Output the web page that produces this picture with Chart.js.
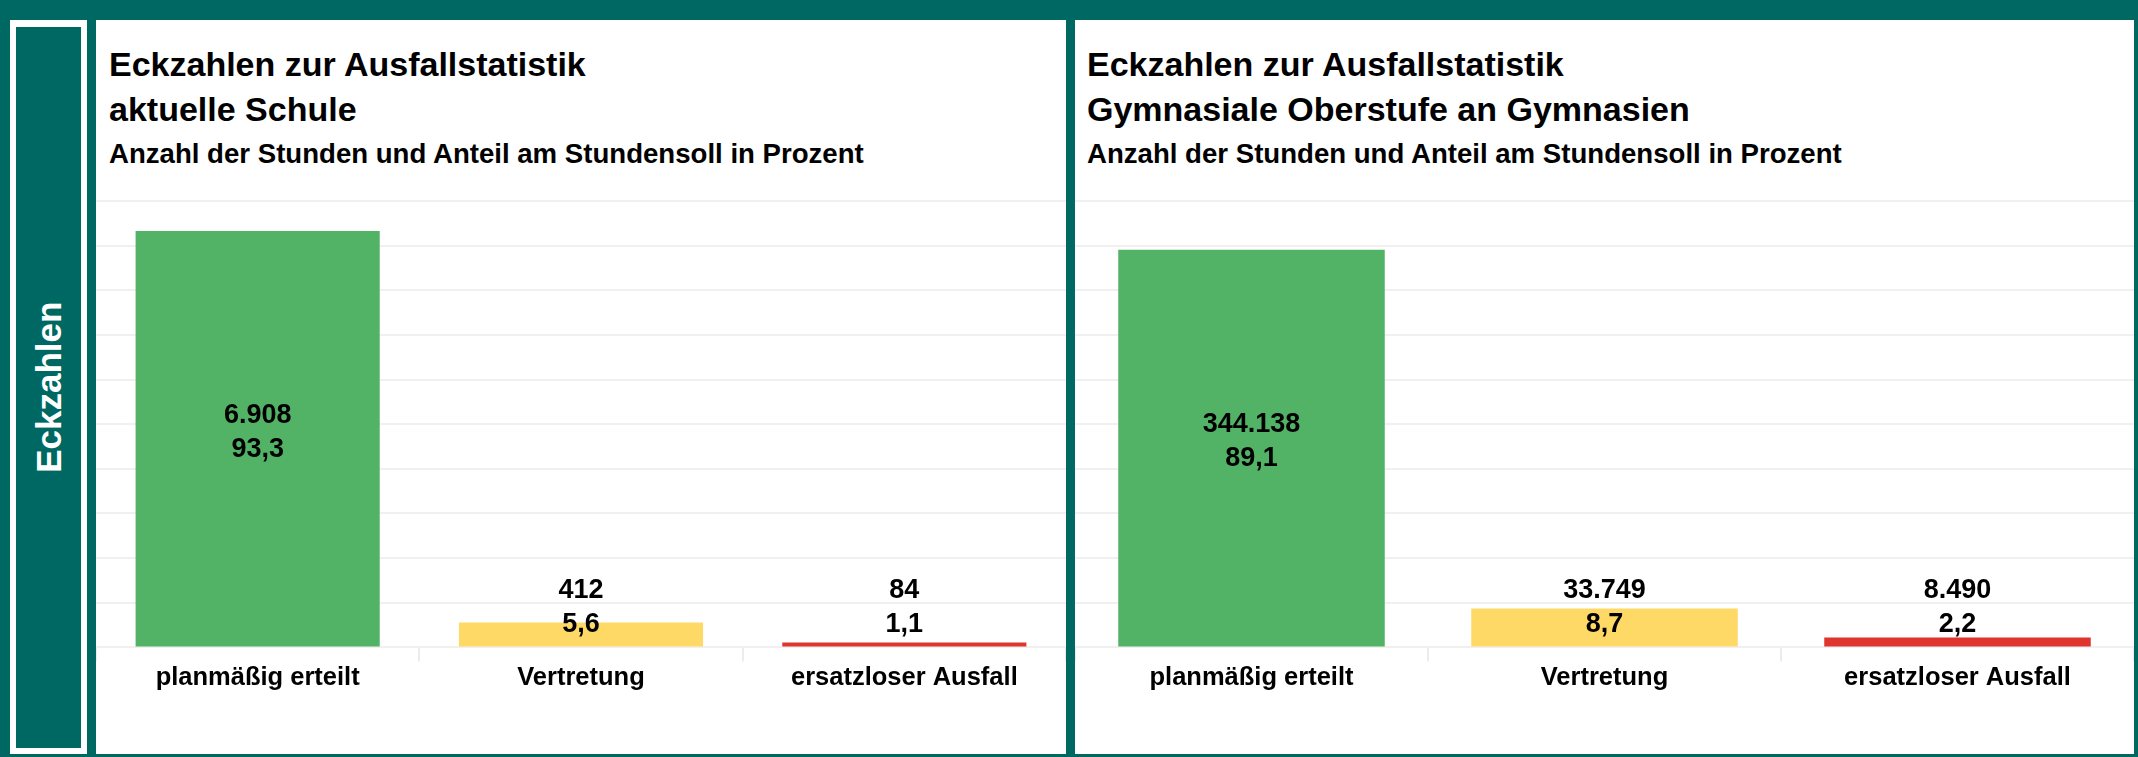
<!DOCTYPE html>
<html>
<head>
<meta charset="utf-8">
<script src="https://cdn.jsdelivr.net/npm/chart.js@4.4.1/dist/chart.umd.min.js"></script>
<style>
  body { margin: 0; width: 2138px; height: 757px; background: #006862; position: relative; overflow: hidden;
         font-family: "Liberation Sans", Arial, sans-serif; }
  .frame { position: absolute; left: 10px; top: 20px; width: 77px; height: 734px; background: #fff; }
  .frame-inner { position: absolute; left: 6px; top: 7px; width: 65px; height: 721px; background: #006862; }
  .frame-text { position: absolute; left: 50%; top: 50%; transform: translate(-50%, -52%) rotate(-90deg);
                color: #fff; font-weight: bold; font-size: 35px; white-space: nowrap; }
  .panel { position: absolute; top: 20px; height: 734px; background: #fff; }
  .title { position: absolute; left: 13px; top: 21.5px; font-weight: bold; font-size: 34px; line-height: 45px;
           color: #000; white-space: nowrap; }
  .title .sub { font-size: 27.6px; position: relative; top: -3px; }
  .chartbox { position: absolute; left: 0; right: 0; top: 170px; bottom: 0; }
</style>
</head>
<body>
<div class="frame"><div class="frame-inner"><div class="frame-text">Eckzahlen</div></div></div>

<div class="panel" style="left:96px; width:970px;">
  <div class="title">Eckzahlen zur Ausfallstatistik<br>aktuelle Schule<br><span class="sub">Anzahl der Stunden und Anteil am Stundensoll in Prozent</span></div>
  <div class="chartbox"><canvas id="chartSchule"></canvas></div>
</div>

<div class="panel" style="left:1075px; width:1059px;">
  <div class="title" style="left:12px;">Eckzahlen zur Ausfallstatistik<br>Gymnasiale Oberstufe an Gymnasien<br><span class="sub">Anzahl der Stunden und Anteil am Stundensoll in Prozent</span></div>
  <div class="chartbox"><canvas id="chartGym"></canvas></div>
</div>

<script>
// Daten
const categories = ["planmäßig erteilt", "Vertretung", "ersatzloser Ausfall"];
const schuleStunden = [6908, 412, 84];
const schuleProzent = [93.3, 5.6, 1.1];
const gymStunden = [344138, 33749, 8490];
const gymProzent = [89.1, 8.7, 2.2];
const barColors = ["#52b266", "#ffd966", "#e0352f"];
const yTicks = [0, 10, 20, 30, 40, 50, 60, 70, 80, 90, 100];

const FONT = '"Liberation Sans", Arial, sans-serif';

function fmtStunden(v) {
  return String(v).replace(/\B(?=(\d{3})+(?!\d))/g, ".");
}
function fmtProzent(v) {
  return v.toFixed(1).replace(".", ",");
}

// zwei Zeilen: Stunden + Prozent
const barLabels = {
  id: "barLabels",
  afterDatasetsDraw(chart) {
    const ctx = chart.ctx;
    const ds = chart.data.datasets[0];
    const meta = chart.getDatasetMeta(0);
    ctx.save();
    ctx.font = "bold 27px " + FONT;
    ctx.fillStyle = "#000";
    ctx.textAlign = "center";
    ctx.textBaseline = "middle";
    meta.data.forEach((bar, i) => {
      const h = bar.base - bar.y;
      let y1, y2;
      if (h > 150) {
        const cy = (bar.y + bar.base) / 2 - 6;
        y1 = cy - 17;
        y2 = cy + 17;
      } else {
        y1 = bar.base - 56;
        y2 = bar.base - 22;
      }
      ctx.fillText(fmtStunden(ds.stunden[i]), bar.x, y1);
      ctx.fillText(fmtProzent(ds.data[i]), bar.x, y2);
    });
    ctx.restore();
  }
};

function makeChart(id, prozent, stunden) {
  return new Chart(document.getElementById(id), {
    type: "bar",
    data: {
      labels: categories,
      datasets: [{
        data: prozent,
        stunden: stunden,
        backgroundColor: barColors,
        categoryPercentage: 0.755,
        barPercentage: 1
      }]
    },
    options: {
      responsive: true,
      maintainAspectRatio: false,
      animation: false,
      layout: { padding: { top: 11, bottom: 60, left: 0, right: 0 } },
      plugins: {
        legend: { display: false },
        tooltip: { enabled: false }
      },
      scales: {
        x: {
          border: { display: false },
          grid: { offset: true, drawOnChartArea: false, drawTicks: true, tickLength: 14, color: "#ececec", lineWidth: 2 },
          ticks: { color: "#000", padding: 1, font: { family: FONT, size: 25.5, weight: "bold" } }
        },
        y: {
          min: 0,
          max: 100,
          afterBuildTicks(scale) { scale.ticks = yTicks.map(v => ({ value: v })); },
          border: { display: false },
          grid: { drawTicks: false, color: "#f0f0f0", lineWidth: 2 },
          ticks: { display: false }
        }
      }
    },
    plugins: [barLabels]
  });
}

const chartSchule = makeChart("chartSchule", schuleProzent, schuleStunden);
const chartGym = makeChart("chartGym", gymProzent, gymStunden);
</script>
</body>
</html>
